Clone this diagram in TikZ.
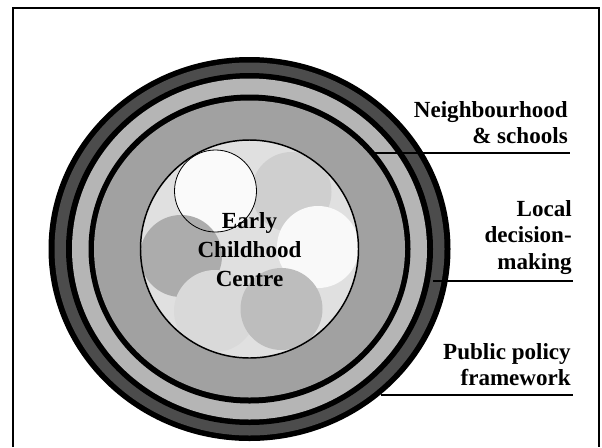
\documentclass[tikz,border=0pt]{standalone}
\usepackage{fontspec}
\setmainfont{Liberation Serif}
\definecolor{ringdark}{gray}{0.30}
\definecolor{ringlight}{gray}{0.71}
\definecolor{ringmid}{gray}{0.63}
\definecolor{corebg}{gray}{0.88}
\tikzset{
  lbl/.style={font=\bfseries\fontsize{17.3}{19.8}\selectfont, align=right, inner sep=0pt, anchor=north east},
  core/.style={font=\bfseries\fontsize{17.3}{21.8}\selectfont, align=center, inner sep=0pt},
  leader/.style={line width=2.4pt*0.75},
}
\begin{document}
\begin{tikzpicture}[x=0.75pt,y=-0.75pt]
\useasboundingbox (0,0) rectangle (602,447);
% frame (open at the bottom)
\draw[line width=1.7pt] (13,447) -- (13,8) -- (599,8) -- (599,447);

% concentric rings, outermost first
\fill[black]     (249.5,249) ellipse [x radius=201,   y radius=192];
\fill[ringdark]  (249.5,249) ellipse [x radius=195,   y radius=186.5];
\fill[black]     (249.5,249) ellipse [x radius=183.5, y radius=176];
\fill[ringlight] (249.5,249) ellipse [x radius=177.5, y radius=170.5];
\fill[black]     (249.5,249) ellipse [x radius=161,   y radius=154.5];
\fill[ringmid]   (249.5,249) ellipse [x radius=155.5, y radius=148.5];

% the centre and its overlapping groups
\fill[corebg] (249.5,249) circle [radius=109];
\begin{scope}
  \clip (249.5,249) circle [radius=109];
  \fill[gray!38!white] (291.5,192) circle [radius=40];
  \fill[gray!4!white]  (215.5,191) circle [radius=41];
  \fill[gray!5!white]  (318,247)   circle [radius=41];
  \fill[gray!65!white] (181,256)   circle [radius=41];
  \fill[gray!30!white] (215,311)   circle [radius=41];
  \fill[gray!52!white] (281.5,309) circle [radius=41];
  \draw[line width=0.6pt] (215.5,191) circle [radius=41];
\end{scope}
\draw[line width=1.1pt] (249.5,249) circle [radius=109];
\node[core] (centre) at (249.5,250) {Early\\Childhood\\Centre};

% ring labels with leader lines
\node[lbl] (nbh) at (568,101) {Neighbourhood\\\& schools};
\node[lbl] (lcl) at (572,200) {Local\\decision-\\making};
\node[lbl] (pub) at (571,343) {Public policy\\framework};

\coordinate (nbhIn)  at (375,153);
\coordinate (nbhOut) at (570,153);
\coordinate (lclIn)  at (433,281);
\coordinate (lclOut) at (573,281);
\coordinate (pubIn)  at (381,395);
\coordinate (pubOut) at (573,395);
\draw[leader] (nbhIn) -- (nbhOut);
\draw[leader] (lclIn) -- (lclOut);
\draw[leader] (pubIn) -- (pubOut);
\end{tikzpicture}
\end{document}
